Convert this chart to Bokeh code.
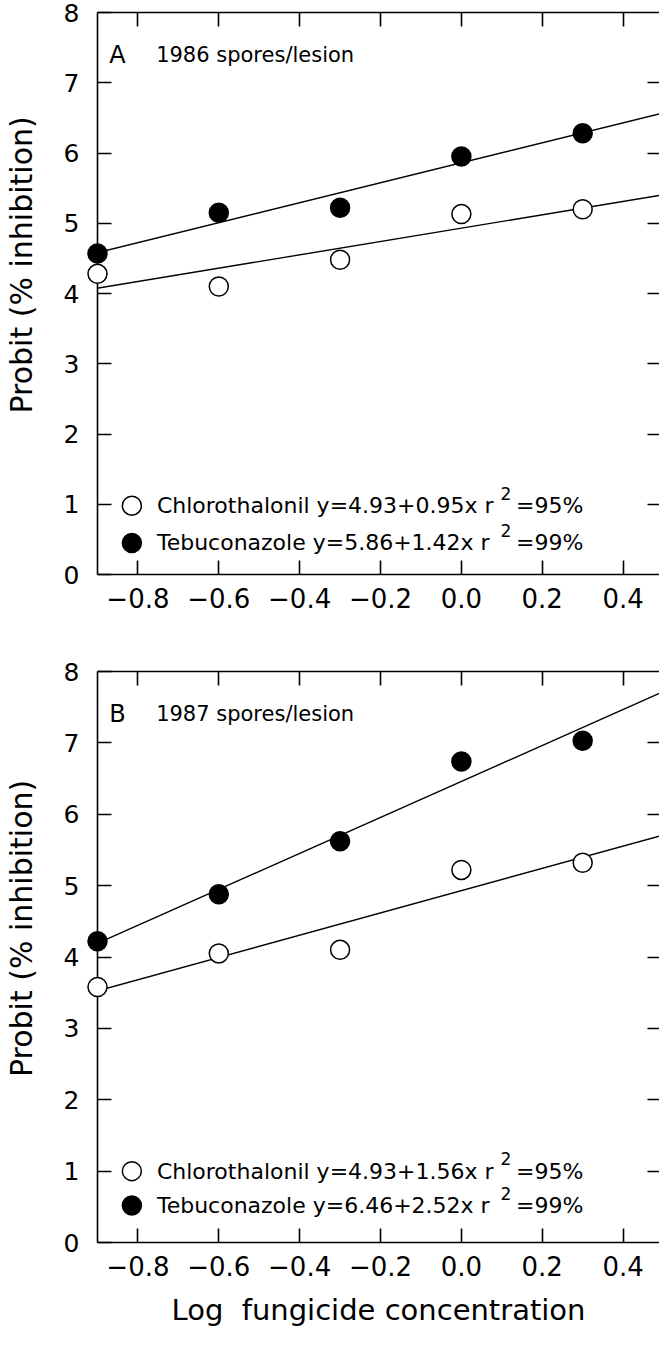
from bokeh.plotting import figure
from bokeh.models import (Range1d, LinearAxis, FixedTicker, CustomJSTickFormatter,
                          Slope, Label, ColumnDataSource)
from bokeh.layouts import column
from bokeh.embed import file_html
from bokeh.resources import INLINE

# ---------------- data ----------------
log_conc = [-0.9, -0.6, -0.3, 0.0, 0.3]
fungicides = ["Chlorothalonil", "Tebuconazole"]

probit_1986_chlorothalonil = [4.28, 4.10, 4.48, 5.13, 5.20]
probit_1986_tebuconazole = [4.57, 5.15, 5.22, 5.95, 6.28]
intercept_1986 = [4.93, 5.86]
slope_1986 = [0.95, 1.42]
r2_1986 = [95, 99]

probit_1987_chlorothalonil = [3.58, 4.05, 4.10, 5.22, 5.32]
probit_1987_tebuconazole = [4.22, 4.88, 5.62, 6.74, 7.03]
intercept_1987 = [4.93, 6.46]
slope_1987 = [1.56, 2.52]
r2_1987 = [95, 99]

x_ticks = [-0.8, -0.6, -0.4, -0.2, 0.0, 0.2, 0.4]
y_ticks = [0, 1, 2, 3, 4, 5, 6, 7, 8]
y_inner_ticks = [1, 2, 3, 4, 5, 6, 7]

FONT = "DejaVu Sans"
X_START, X_END = -0.9, 0.49
NBSP = "\u00a0"

xfmt_code = "return (tick < -1e-9 ? '\\u2212' : '') + Math.abs(tick).toFixed(1);"
blank_code = "return '';"


def style_axis(ax, tick_len, labels, line=True, label_size="25px", standoff=0):
    ax.major_tick_in = tick_len
    ax.major_tick_out = 0
    ax.minor_tick_line_color = None
    ax.axis_line_width = 1.6
    ax.axis_line_color = "black" if line else None
    ax.major_tick_line_width = 1.6
    ax.major_tick_line_color = "black"
    ax.major_label_text_font = FONT
    ax.major_label_text_color = "black"
    if labels:
        ax.major_label_text_font_size = label_size
        ax.major_label_standoff = standoff
    else:
        ax.formatter = CustomJSTickFormatter(code=blank_code)
        ax.major_label_text_font_size = "0px"
        ax.major_label_standoff = 0


def panel(tag, caption, chloro, tebu, intercepts, slopes, r2s, height,
          border_top, border_bottom, legend_rows, x_title=None):
    p = figure(width=659, height=height, output_backend="svg", toolbar_location=None,
               x_range=Range1d(X_START, X_END), y_range=Range1d(0, 8),
               x_axis_location=None, y_axis_location=None,
               min_border_left=93, min_border_right=0,
               min_border_top=border_top, min_border_bottom=border_bottom,
               outline_line_color=None, background_fill_color="white",
               border_fill_color="white")
    p.grid.visible = False

    # axes
    ax_b = LinearAxis(ticker=FixedTicker(ticks=x_ticks),
                      formatter=CustomJSTickFormatter(code=xfmt_code))
    style_axis(ax_b, 14, True, label_size="26px", standoff=13)
    if x_title:
        ax_b.axis_label = x_title
        ax_b.axis_label_text_font = FONT
        ax_b.axis_label_text_font_size = "29px"
        ax_b.axis_label_text_font_style = "normal"
        ax_b.axis_label_text_color = "black"
        ax_b.axis_label_standoff = 14
    p.add_layout(ax_b, "below")

    ax_t = LinearAxis(ticker=FixedTicker(ticks=x_ticks))
    style_axis(ax_t, 14, False)
    p.add_layout(ax_t, "above")

    ax_l = LinearAxis(ticker=FixedTicker(ticks=y_ticks))
    style_axis(ax_l, 14, True, label_size="25px", standoff=18)
    # y title sits a little above the frame centre in the original
    ax_l.axis_label = NBSP * 6 + "Probit (% inhibition)"
    ax_l.axis_label_text_font = FONT
    ax_l.axis_label_text_font_size = "30px"
    ax_l.axis_label_text_font_style = "normal"
    ax_l.axis_label_text_color = "black"
    ax_l.axis_label_standoff = 22
    p.add_layout(ax_l, "left")

    ax_r = LinearAxis(ticker=FixedTicker(ticks=y_inner_ticks))
    style_axis(ax_r, 12, False, line=False)
    p.add_layout(ax_r, "right")

    # regression lines
    for a, b in zip(intercepts, slopes):
        p.add_layout(Slope(gradient=b, y_intercept=a, line_color="black", line_width=1.4))

    src = ColumnDataSource(dict(x=log_conc, chloro=chloro, tebu=tebu))
    p.scatter(x="x", y="chloro", source=src, marker="circle", size=19,
              fill_color="white", line_color="black", line_width=1.5, level="overlay")
    p.scatter(x="x", y="tebu", source=src, marker="circle", size=19,
              fill_color="black", line_color="black", line_width=1.5, level="overlay")

    # panel caption
    p.add_layout(Label(x=-0.871, y=7.4, text=tag, text_font=FONT, text_font_size="24px",
                       text_color="black", text_align="left", text_baseline="middle"))
    p.add_layout(Label(x=-0.755, y=7.4, text=caption, text_font=FONT, text_font_size="21px",
                       text_color="black", text_align="left", text_baseline="middle"))

    # legend
    fills = ["white", "black"]
    p.scatter(x=[-0.815, -0.815], y=legend_rows, marker="circle", size=19,
              fill_color=fills, line_color="black", line_width=1.5)
    for name, a, b, r2, ly in zip(fungicides, intercepts, slopes, r2s, legend_rows):
        p.add_layout(Label(x=-0.753, y=ly, text=f"{name} y={a:.2f}+{b:.2f}x r",
                           text_font=FONT, text_font_size="22px", text_color="black",
                           text_align="left", text_baseline="middle"))
        p.add_layout(Label(x=0.097, y=ly + 0.17, text="2",
                           text_font=FONT, text_font_size="17px", text_color="black",
                           text_align="left", text_baseline="middle"))
        p.add_layout(Label(x=0.135, y=ly, text=f"={r2}%",
                           text_font=FONT, text_font_size="22px", text_color="black",
                           text_align="left", text_baseline="middle"))
    return p


p1 = panel("A", "1986 spores/lesion", probit_1986_chlorothalonil, probit_1986_tebuconazole,
           intercept_1986, slope_1986, r2_1986, height=632, border_top=12, border_bottom=58,
           legend_rows=[0.98, 0.45])
p2 = panel("B", "1987 spores/lesion", probit_1987_chlorothalonil, probit_1987_tebuconazole,
           intercept_1987, slope_1987, r2_1987, height=698, border_top=39, border_bottom=88,
           legend_rows=[1.0, 0.52], x_title="Log" + NBSP + " fungicide concentration")

layout = column(p1, p2, spacing=0)
open("out.html", "w").write(file_html(layout, INLINE))
